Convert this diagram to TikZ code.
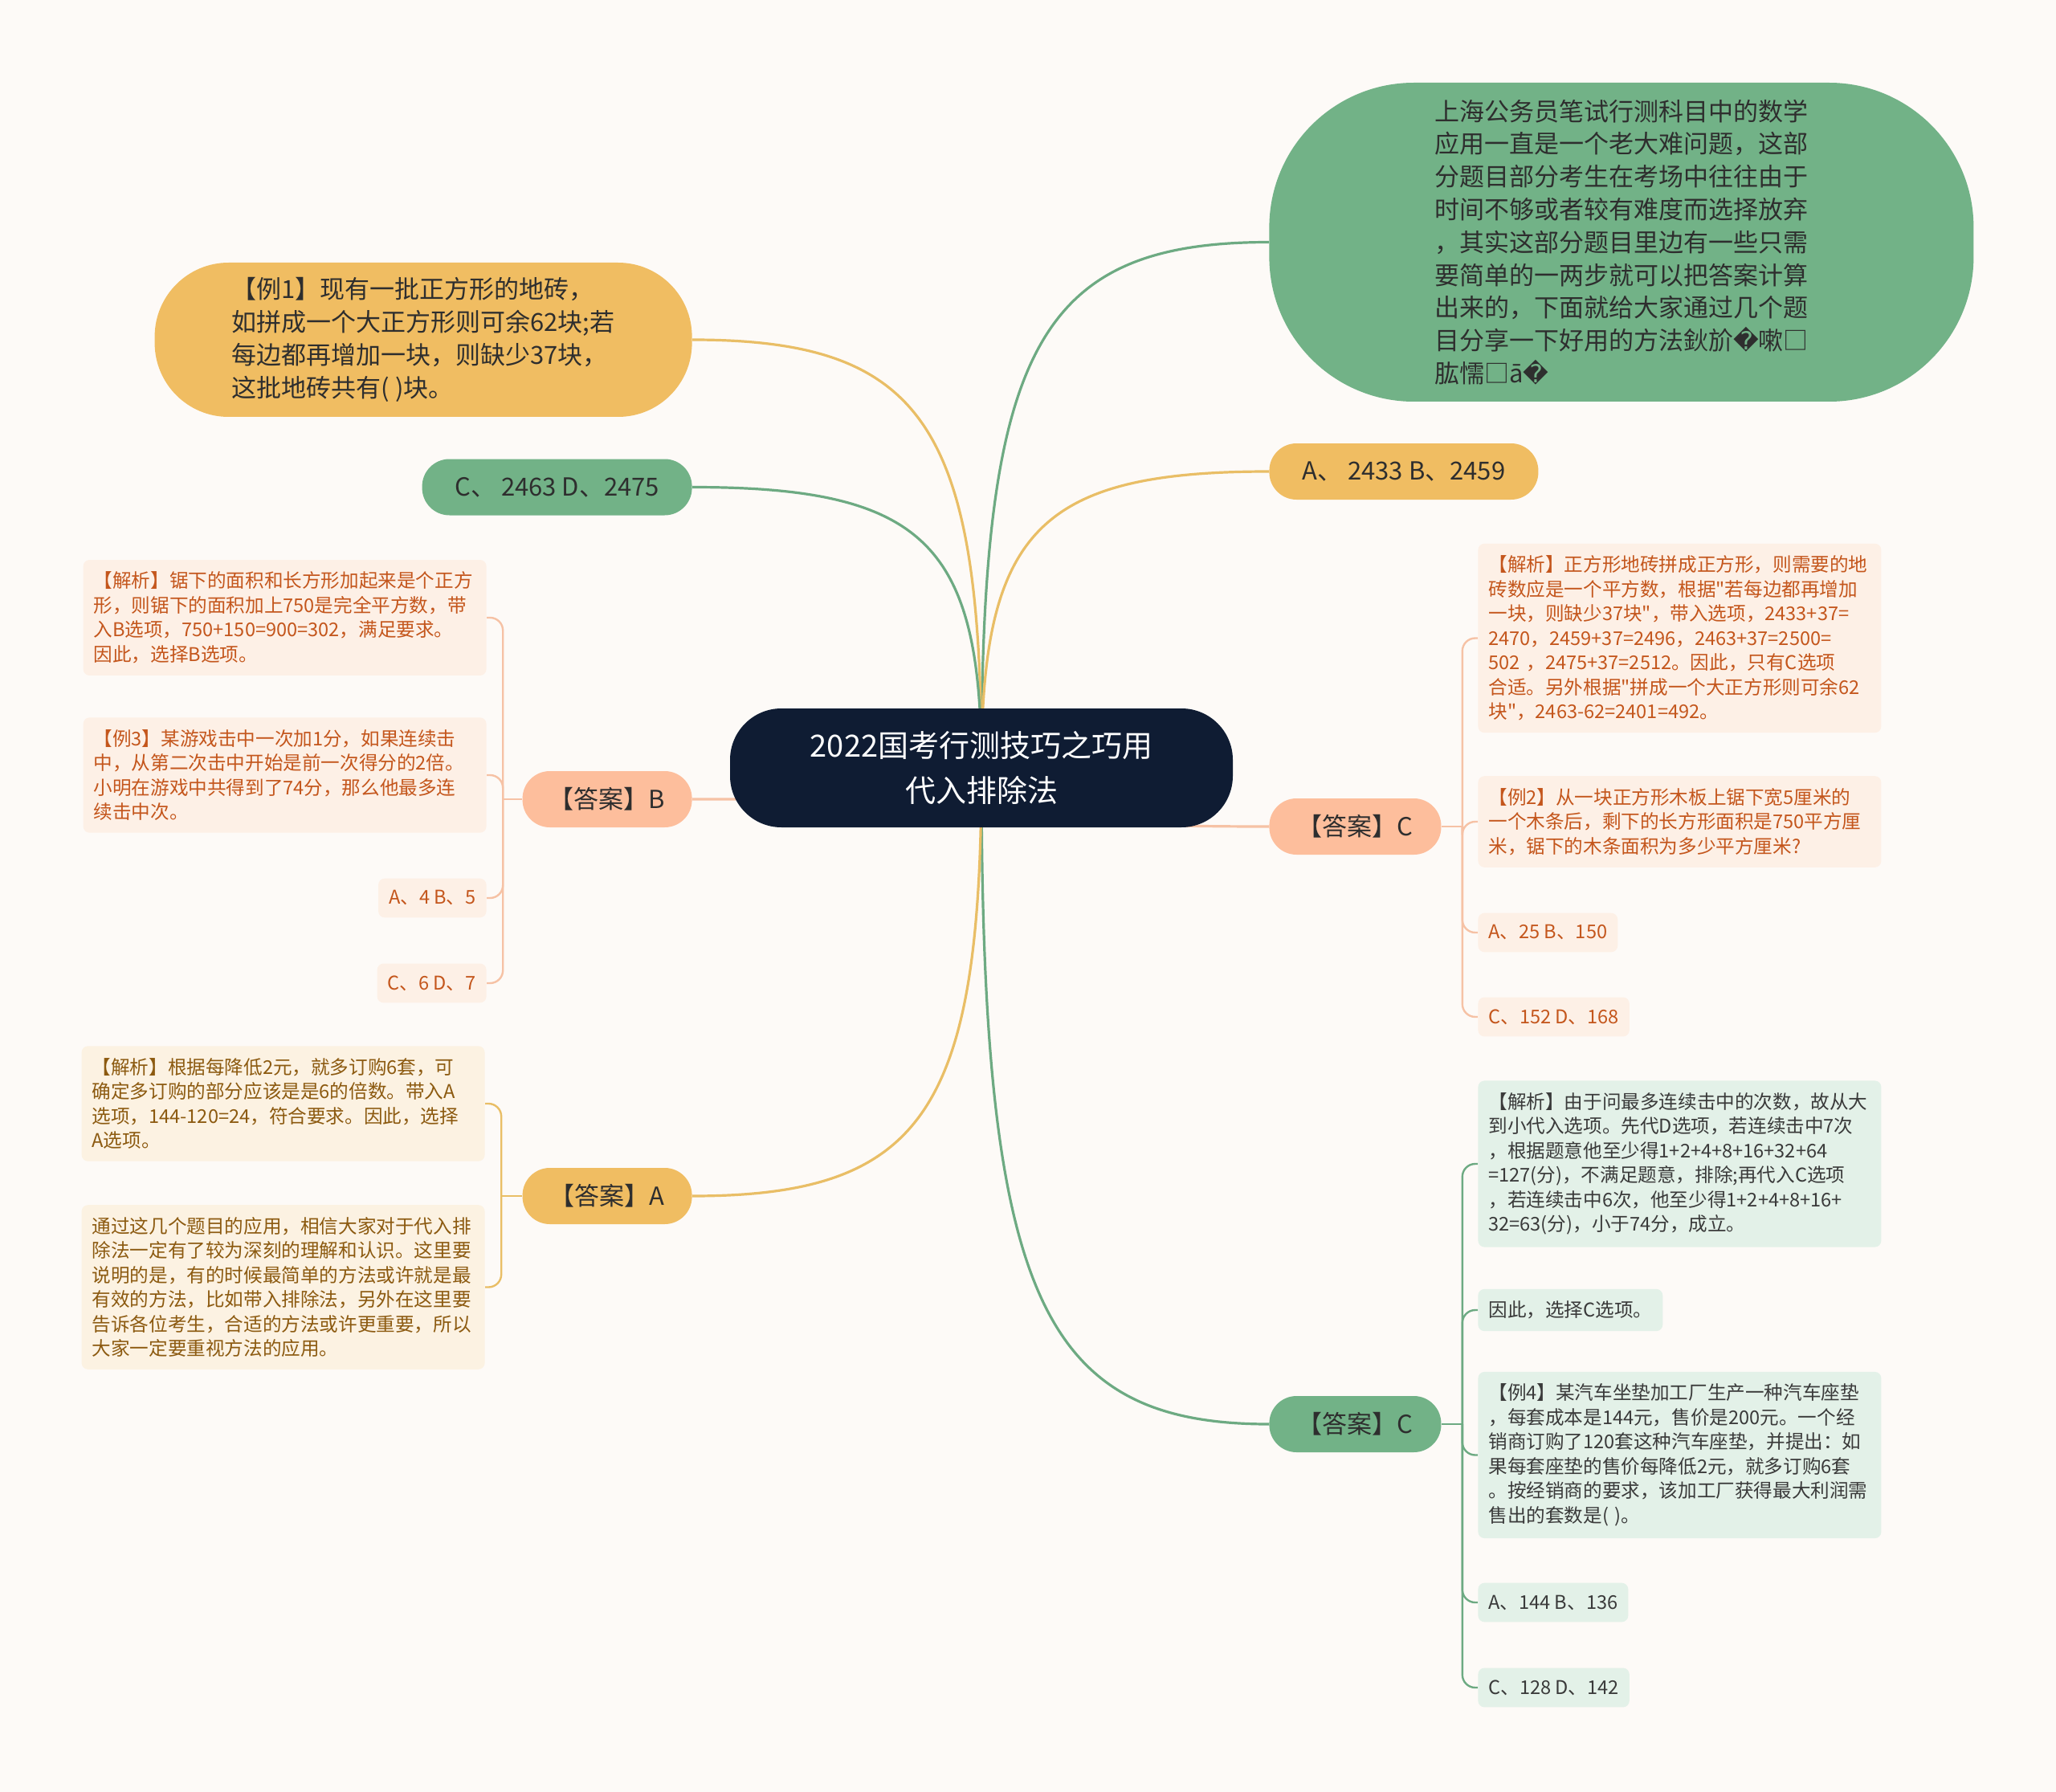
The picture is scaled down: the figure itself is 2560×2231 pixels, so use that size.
\documentclass[tikz,border=0pt]{standalone}
\usepackage{fontspec}
\setmainfont{Noto Sans CJK SC}[Ligatures=TeXOff]
\newfontfamily\dejavu{DejaVu Sans}
\usetikzlibrary{positioning, calc}

\definecolor{paper}{HTML}{FDFAF7}
\definecolor{navy}{HTML}{0F1C33}
\definecolor{ink}{HTML}{2E2E2E}
\definecolor{sage}{HTML}{72B287}
\definecolor{gold}{HTML}{F0BD62}
\definecolor{salmon}{HTML}{FDBE9C}
\definecolor{sageline}{HTML}{6DAA82}
\definecolor{goldline}{HTML}{E9BE66}
\definecolor{salmonline}{HTML}{F6C2A5}
\definecolor{peachbg}{HTML}{FDF0E6}
\definecolor{rust}{HTML}{C4561C}
\definecolor{creambg}{HTML}{FCF2E2}
\definecolor{brown}{HTML}{8C5A10}
\definecolor{mintbg}{HTML}{E3F1E8}
\definecolor{mintink}{HTML}{3A3A3A}

\newcommand{\bad}{{\dejavu ^^^^fffd}}

\pgfdeclarelayer{bg}
\pgfdeclarelayer{links}
\pgfsetlayers{bg,links,main}

\begin{document}
\begin{tikzpicture}[x=0.5pt, y=-0.5pt, line cap=round]
	\tikzstyle{box}=[inner sep=0pt, align=center, text=ink, font=\fontsize{15.5}{20.4}\selectfont]
	\tikzstyle{root}=[box, fill=navy, text=white, minimum width=313pt, minimum height=74pt, rounded corners=32pt, font=\fontsize{19}{27.8}\selectfont]
	\tikzstyle{topic}=[box, minimum height=35pt, rounded corners=17pt]
	\tikzstyle{leaf}=[inner xsep=6.5pt, inner ysep=7.5pt, rounded corners=4pt, align=left, font=\fontsize{11.8}{15.25}\selectfont]
	\tikzstyle{wide}=[text width=238pt]
	\tikzstyle{peach leaf}=[leaf, fill=peachbg, text=rust]
	\tikzstyle{cream leaf}=[leaf, fill=creambg, text=brown]
	\tikzstyle{mint leaf}=[leaf, fill=mintbg, text=mintink]
	\tikzstyle{main link}=[line width=1.6pt]
	\tikzstyle{leaf link}=[line width=1.2pt, rounded corners=8pt]
	
	\useasboundingbox (0,0) rectangle (2560,2231);
	\begin{pgfonlayer}{bg}
		\fill[paper] (0,0) rectangle (2560,2231);
	\end{pgfonlayer}
	
	% Root
	\node[root] (root) at (1222,956) {2022国考行测技巧之巧用\\代入排除法};
	
	% Right topics
	\node[box, anchor=west, fill=sage, align=left, minimum width=438.5pt, minimum height=198.5pt, rounded corners=90pt] (intro) at (1580,301.5)
	{上海公务员笔试行测科目中的数学\\应用一直是一个老大难问题，这部\\分题目部分考生在考场中往往由于\\时间不够或者较有难度而选择放弃\\，其实这部分题目里边有一些只需\\要简单的一两步就可以把答案计算\\出来的，下面就给大家通过几个题\\目分享一下好用的方法鈥斺\bad 嗽□\\肱懦□ā\bad};
	\node[topic, anchor=west, fill=gold, minimum width=167.5pt] (optAB) at (1580,587) {A、 2433 B、2459};
	\node[topic, anchor=west, fill=salmon, minimum width=107pt] (ansC1) at (1580,1029) {【答案】C};
	\node[topic, anchor=west, fill=sage, minimum width=107pt] (ansC2) at (1580,1773) {【答案】C};
	
	% Left topics
	\node[box, anchor=east, fill=gold, align=left, minimum width=334.5pt, minimum height=96pt, rounded corners=46pt] (ex1) at (862,423)
	{【例1】现有一批正方形的地砖，\\如拼成一个大正方形则可余62块;若\\每边都再增加一块，则缺少37块，\\这批地砖共有( )块。};
	\node[topic, anchor=east, fill=sage, minimum width=168pt] (optCD) at (862,606.5) {C、 2463 D、2475};
	\node[topic, anchor=east, fill=salmon, minimum width=105.5pt] (ansB) at (862,995) {【答案】B};
	\node[topic, anchor=east, fill=gold, minimum width=105.5pt] (ansA) at (862,1489) {【答案】A};
	
	% Leaves of answer C (peach)
	\node[peach leaf, wide, anchor=west] (c1-1) at (1840,794.5) {【解析】正方形地砖拼成正方形，则需要的地\\砖数应是一个平方数，根据"若每边都再增加\\一块，则缺少37块"，带入选项，2433+37=\\2470，2459+37=2496，2463+37=2500=\\502 ，2475+37=2512。因此，只有C选项\\合适。另外根据"拼成一个大正方形则可余62\\块"，2463-62=2401=492。};
	\node[peach leaf, wide, anchor=west] (c1-2) at (1840,1023) {【例2】从一块正方形木板上锯下宽5厘米的\\一个木条后，剩下的长方形面积是750平方厘\\米，锯下的木条面积为多少平方厘米?};
	\node[peach leaf, anchor=west] (c1-3) at (1840,1161) {A、25 B、150};
	\node[peach leaf, anchor=west] (c1-4) at (1840,1266) {C、152 D、168};
	
	% Leaves of answer B (peach)
	\node[peach leaf, wide, anchor=east] (b-1) at (606,769) {【解析】锯下的面积和长方形加起来是个正方\\形，则锯下的面积加上750是完全平方数，带\\入B选项，750+150=900=302，满足要求。\\因此，选择B选项。};
	\node[peach leaf, wide, anchor=east] (b-2) at (606,965) {【例3】某游戏击中一次加1分，如果连续击\\中，从第二次击中开始是前一次得分的2倍。\\小明在游戏中共得到了74分，那么他最多连\\续击中次。};
	\node[peach leaf, anchor=east] (b-3) at (606,1118) {A、4 B、5};
	\node[peach leaf, anchor=east] (b-4) at (606,1224) {C、6 D、7};
	
	% Leaves of answer A (cream)
	\node[cream leaf, wide, anchor=east] (a-1) at (604,1374) {【解析】根据每降低2元，就多订购6套，可\\确定多订购的部分应该是是6的倍数。带入A\\选项，144-120=24，符合要求。因此，选择\\A选项。};
	\node[cream leaf, wide, anchor=east] (a-2) at (604,1602.5) {通过这几个题目的应用，相信大家对于代入排\\除法一定有了较为深刻的理解和认识。这里要\\说明的是，有的时候最简单的方法或许就是最\\有效的方法，比如带入排除法，另外在这里要\\告诉各位考生，合适的方法或许更重要，所以\\大家一定要重视方法的应用。};
	
	% Leaves of answer C (mint)
	\node[mint leaf, wide, anchor=west] (c2-1) at (1840,1449) {【解析】由于问最多连续击中的次数，故从大\\到小代入选项。先代D选项，若连续击中7次\\，根据题意他至少得1+2+4+8+16+32+64\\=127(分)，不满足题意，排除;再代入C选项\\，若连续击中6次，他至少得1+2+4+8+16+\\32=63(分)，小于74分，成立。};
	\node[mint leaf, anchor=west] (c2-2) at (1840,1631) {因此，选择C选项。};
	\node[mint leaf, wide, anchor=west] (c2-3) at (1840,1811.5) {【例4】某汽车坐垫加工厂生产一种汽车座垫\\，每套成本是144元，售价是200元。一个经\\销商订购了120套这种汽车座垫，并提出：如\\果每套座垫的售价每降低2元，就多订购6套\\。按经销商的要求，该加工厂获得最大利润需\\售出的套数是( )。};
	\node[mint leaf, anchor=west] (c2-4) at (1840,1995) {A、144 B、136};
	\node[mint leaf, anchor=west] (c2-5) at (1840,2101) {C、128 D、142};
	
	\begin{pgfonlayer}{links}
		% Root -> topics
		\foreach \n/\c in {intro/sageline, optAB/goldline, ansC1/salmonline, ansC2/sageline}
		\draw[main link, draw=\c] (root.center) .. controls ($(root.center)!0.8!(root.center |- \n.west)$) and ($(\n.west)!0.8!(root.center |- \n.west)$) .. (\n.west);
		\foreach \n/\c in {ex1/goldline, optCD/sageline, ansB/salmonline, ansA/goldline}
		\draw[main link, draw=\c] (root.center) .. controls ($(root.center)!0.8!(root.center |- \n.east)$) and ($(\n.east)!0.8!(root.center |- \n.east)$) .. (\n.east);
		
		% Topics -> leaves
		\draw[leaf link, salmonline] (ansC1.east) -- ++(26,0) coordinate (jC1);
		\foreach \n in {c1-1, c1-2, c1-3, c1-4}
		\draw[leaf link, salmonline] (jC1) |- (\n.west);
		\draw[leaf link, salmonline] (ansB.west) -- ++(-24,0) coordinate (jB);
		\foreach \n in {b-1, b-2, b-3, b-4}
		\draw[leaf link, salmonline] (jB) |- (\n.east);
		\draw[leaf link, goldline] (ansA.west) -- ++(-26,0) coordinate (jA);
		\foreach \n in {a-1, a-2}
		\draw[leaf link, goldline] (jA) |- (\n.east);
		\draw[leaf link, sageline] (ansC2.east) -- ++(26,0) coordinate (jC2);
		\foreach \n in {c2-1, c2-2, c2-3, c2-4, c2-5}
		\draw[leaf link, sageline] (jC2) |- (\n.west);
	\end{pgfonlayer}
\end{tikzpicture}
\end{document}
